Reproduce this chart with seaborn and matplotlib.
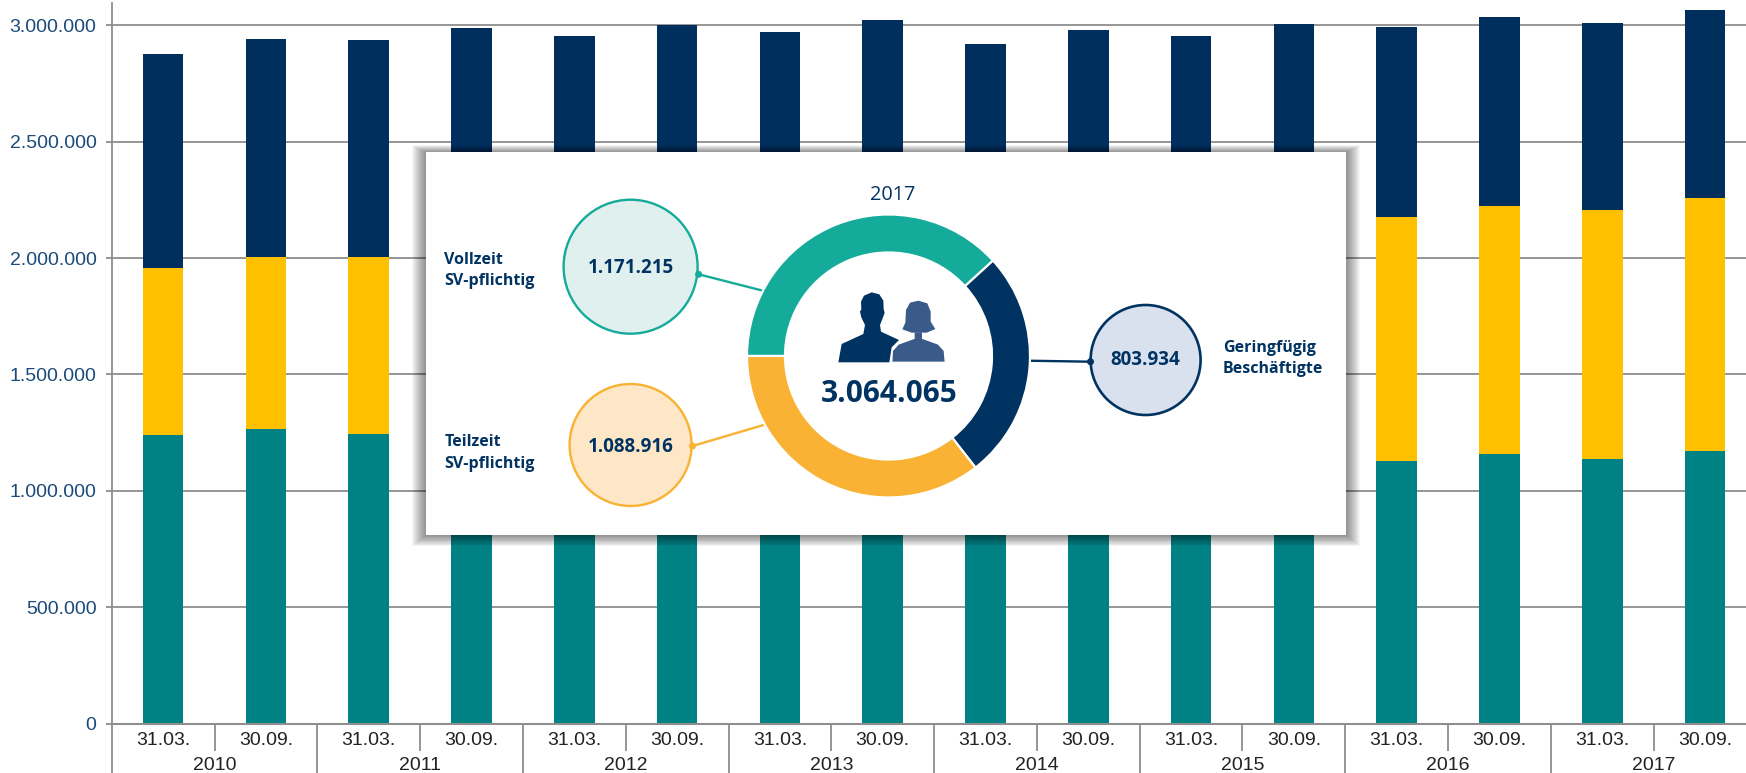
import numpy as np
import pandas as pd
import matplotlib
matplotlib.use('Agg')
import matplotlib.pyplot as plt
from matplotlib.patches import Circle, Polygon, Rectangle
from matplotlib.ticker import FuncFormatter
import seaborn as sns

W, H = 1746, 773

years = ['2010', '2011', '2012', '2013', '2014', '2015', '2016', '2017']
dates = ['31.03.', '30.09.'] * 8
periods = [f'{y} {d}' for y in years for d in ('31.03.', '30.09.')]

# hidden behind the panel for 2011-2015 -> rough estimates there
vollzeit = [1239000, 1267000, 1245000, 1270000, 1240000, 1260000, 1210000, 1230000,
            1160000, 1180000, 1130000, 1150000, 1130000, 1160000, 1137000, 1171215]
teilzeit = [718000, 736000, 758000, 780000, 800000, 830000, 860000, 890000,
            890000, 930000, 980000, 1020000, 1048000, 1065000, 1070000, 1088916]
geringfuegig = [921000, 937000, 932000, 940000, 915000, 910000, 900000, 902000,
                870000, 870000, 845000, 837000, 815000, 812000, 801000, 803934]

TEAL = '#008285'
YELLOW = '#FFC000'
NAVY = '#002E5D'
GRID = '#8E8E8E'
PANEL_TEAL = '#14AB9A'
PANEL_YELLOW = '#F9B233'
PANEL_NAVY = '#003361'

sns.set_theme(style='white')
plt.rcParams['font.family'] = ['Liberation Sans', 'DejaVu Sans']

df = pd.DataFrame({'period': periods, 'voll': vollzeit, 'teil': teilzeit, 'ger': geringfuegig})

fig = plt.figure(figsize=(W / 100, H / 100), dpi=100)
# axes runs past the right edge of the figure, the last category is cut off in the original
ax = fig.add_axes([111.7 / W, (H - 723.7) / H, 16 * 102.8 / W, (723.7 - 2.7) / H])

sns.barplot(data=df, x='period', y='voll', color=TEAL, width=0.396, saturation=1,
            linewidth=0, ax=ax)
sns.barplot(data=df, x='period', y='teil', bottom=df['voll'], color=YELLOW, width=0.396,
            saturation=1, linewidth=0, ax=ax)
sns.barplot(data=df, x='period', y='ger', bottom=df['voll'] + df['teil'], color=NAVY,
            width=0.396, saturation=1, linewidth=0, ax=ax)

ax.set_xlim(-0.5, 15.5)
ax.set_ylim(0, 3097000)
ax.set_xlabel('')
ax.set_ylabel('')
ax.set_axisbelow(True)
ax.set_yticks(range(0, 3000001, 500000))
ax.yaxis.set_major_formatter(FuncFormatter(lambda v, _: f'{int(v):,}'.replace(',', '.')))
ax.grid(axis='y', color=GRID, lw=1.3)
ax.tick_params(axis='y', length=4.5, width=1.3, color=GRID, labelcolor='#1B4A7A',
               labelsize=14, pad=6.5, left=True)
ax.set_xticks(range(16), labels=dates)
ax.tick_params(axis='x', which='major', length=0, labelsize=14, labelcolor='#222222', pad=6)
ax.set_xticks(np.arange(0.5, 15, 2), minor=True)
ax.tick_params(axis='x', which='minor', length=19.5, width=1.3, color=GRID, bottom=True)

sns.despine(ax=ax, top=True, right=True)
ax.spines['left'].set_color(GRID)
ax.spines['left'].set_linewidth(1.3)
ax.spines['bottom'].set_color(GRID)
ax.spines['bottom'].set_linewidth(1.5)

sec = ax.secondary_xaxis(0)
sec.spines['bottom'].set_visible(False)
sec.set_xticks(np.arange(-0.5, 16, 2), labels=[''] * 9)
sec.set_xticks(np.arange(0.5, 16, 2), labels=years, minor=True)
sec.tick_params(axis='x', which='major', length=38, width=1.3, color=GRID, bottom=True)
sec.tick_params(axis='x', which='minor', length=0, labelsize=14, labelcolor='#222222', pad=24)

# overlay in pixel coordinates for the panel, y downwards
ov = fig.add_axes([0, 0, 1, 1], zorder=5)
ov.set_xlim(0, W)
ov.set_ylim(H, 0)
ov.axis('off')
ov.patch.set_alpha(0)

px0, py0, px1, py1 = 426, 152, 1346, 535
for s in range(14, 0, -1):
    ov.add_patch(Rectangle((px0 - s, py0 - 0.5 * s), px1 - px0 + 2 * s,
                           py1 - py0 + 1.3 * s, fc='black', ec='none', alpha=0.034))
ov.add_patch(Rectangle((px0, py0), px1 - px0, py1 - py0, fc='white', ec='none'))

# connectors and bubbles
ov.plot([698.6, 764], [274.3, 291], color=PANEL_TEAL, lw=1.7, zorder=2)
ov.plot([692.5, 767], [446, 424], color=PANEL_YELLOW, lw=1.7, zorder=2)
ov.plot([1090.5, 1028], [361.7, 360.7], color=PANEL_NAVY, lw=1.7, zorder=2)
ov.add_patch(Circle((630.6, 266.7), 67, fc='#DFF0EF', ec=PANEL_TEAL, lw=1.7, zorder=3))
ov.add_patch(Circle((630.6, 445), 61, fc='#FDE7C6', ec=PANEL_YELLOW, lw=1.7, zorder=3))
ov.add_patch(Circle((1145.6, 360), 55, fc='#DAE1EE', ec=PANEL_NAVY, lw=1.9, zorder=3))
ov.add_patch(Circle((698.6, 274.3), 3.5, fc=PANEL_TEAL, ec='none', zorder=4))
ov.add_patch(Circle((692.5, 446), 3.5, fc=PANEL_YELLOW, ec='none', zorder=4))
ov.add_patch(Circle((1090.5, 361.7), 3.5, fc=PANEL_NAVY, ec='none', zorder=4))

# person icons
MAN = '#003361'
WOMAN = '#3A5A89'
def icon(points):
    return [(x / 3 + 800, y / 3 + 260) for x, y in points]

man = [(115, 307), (125, 252), (190, 222), (195, 195), (184, 172), (180, 155), (184, 148),
       (183, 125), (192, 107), (215, 97), (238, 103), (250, 122), (251, 148), (254, 158),
       (248, 175), (240, 195), (243, 215), (297, 240), (275, 262), (268, 307)]
woman_hair = [(318, 150), (330, 128), (355, 122), (382, 130), (392, 155), (392, 185),
              (406, 207), (380, 218), (335, 218), (307, 208), (316, 188)]
woman_body = [(275, 307), (277, 272), (295, 252), (342, 235), (342, 215), (368, 215),
              (368, 235), (415, 252), (433, 272), (436, 307)]
ov.add_patch(Polygon(icon(man), fc=MAN, ec='none', zorder=4))
ov.add_patch(Polygon(icon(woman_body), fc=WOMAN, ec='white', lw=1, zorder=5))
ov.add_patch(Polygon(icon(woman_hair), fc=WOMAN, ec='none', zorder=5))

PANEL_FONT = ['Open Sans', 'DejaVu Sans']
def panel_text(x, y, s, size=11.5, weight='bold', ha='left'):
    ov.text(x, y, s, fontsize=size, fontweight=weight, ha=ha, va='center', color=PANEL_NAVY,
            family=PANEL_FONT, zorder=6)

panel_text(444.5, 260, 'Vollzeit')
panel_text(444.5, 281, 'SV-pflichtig')
panel_text(444.5, 441.5, 'Teilzeit')
panel_text(444.5, 464, 'SV-pflichtig')
panel_text(1223, 348, 'Geringfügig')
panel_text(1223, 369, 'Beschäftigte')
panel_text(630.5, 268, f'{vollzeit[-1]:,}'.replace(',', '.'), size=13.5, ha='center')
panel_text(630.5, 447, f'{teilzeit[-1]:,}'.replace(',', '.'), size=13.5, ha='center')
panel_text(1145.5, 360, f'{geringfuegig[-1]:,}'.replace(',', '.'), size=13.5, ha='center')
panel_text(893, 195, years[-1], size=14.3, weight='normal', ha='center')
total = vollzeit[-1] + teilzeit[-1] + geringfuegig[-1]
panel_text(889.5, 394, f'{total:,}'.replace(',', '.'), size=21.5, ha='center')

# donut for the last period
cx, cy, r = 888.5, 356, 141.5
dax = fig.add_axes([(cx - r) / W, (H - cy - r) / H, 2 * r / W, 2 * r / H], zorder=6)
dax.pie([vollzeit[-1], geringfuegig[-1], teilzeit[-1]],
        colors=[PANEL_TEAL, PANEL_NAVY, PANEL_YELLOW], startangle=180, counterclock=False,
        radius=1, wedgeprops={'width': 38 / 141.5, 'edgecolor': 'white', 'linewidth': 1.6})
dax.set_xlim(-1, 1)
dax.set_ylim(-1, 1)

fig.savefig('out.png', dpi=100)
plt.close(fig)
